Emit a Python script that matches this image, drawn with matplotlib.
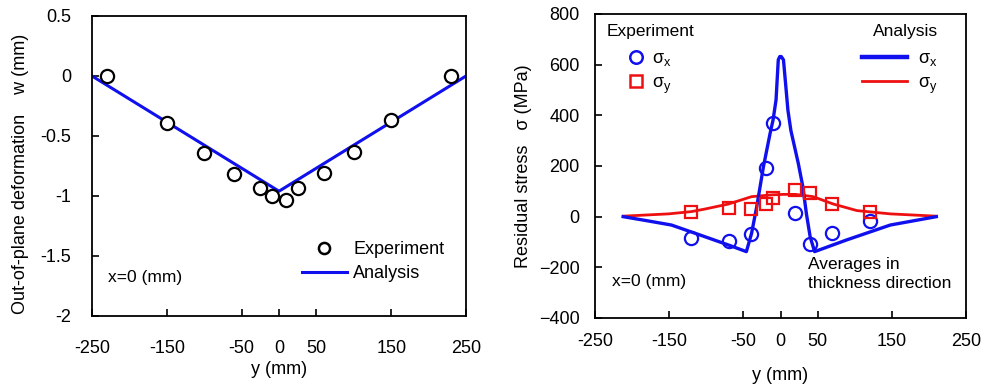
import matplotlib
matplotlib.use("Agg")
import matplotlib.pyplot as plt
from matplotlib.lines import Line2D

plt.rcParams['font.family'] = ['Liberation Sans', 'DejaVu Sans']
plt.rcParams['mathtext.fontset'] = 'custom'
plt.rcParams['mathtext.rm'] = 'Liberation Sans'
plt.rcParams['mathtext.it'] = 'Liberation Sans:italic'

# ---- left panel data ----
w_exp_y = [-230, -150, -100, -60, -25, -10, 10, 25, 60, 100, 150, 230]
w_exp = [0.0, -0.39, -0.64, -0.82, -0.93, -1.0, -1.03, -0.93, -0.81, -0.63, -0.37, 0.0]
w_ana_y = [-250, 0, 250]
w_ana = [0.0, -0.96, 0.0]

# ---- right panel data ----
s_exp_y = [-120, -70, -40, -20, -10, 20, 40, 70, 120]
sx_exp = [-83, -95, -70, 192, 371, 15, -106, -64, -17]
sy_exp = [20, 34, 29, 50, 74, 105, 92, 51, 17]

sx_ana_y = [-212, -180, -147, -102, -70, -46, -39, -32, -23, -14, -10, -6, -3, -1,
            1, 4, 7, 10, 14, 24, 30, 35, 40, 46, 89, 148, 210]
sx_ana = [0, -16, -33, -79, -112, -138, -66, 40, 197, 329, 382, 461, 619, 632,
          632, 619, 520, 420, 340, 210, 120, 10, -80, -138, -92, -33, 0]
sy_ana_y = [-212, -151, -120, -102, -70, -39, -12, 4, 20, 44, 71, 103, 148, 210]
sy_ana = [2, 11, 20, 30, 50, 79, 86, 88, 88, 79, 50, 24, 11, 2]

xticks = [-250, -150, -50, 0, 50, 150, 250]
w_ticks = [0.5, 0, -0.5, -1, -1.5, -2]
w_ticklabels = ['0.5', '0', '-0.5', '-1', '-1.5', '-2']
s_ticks = [800, 600, 400, 200, 0, -200, -400]

FS = 13
W, H = 986, 387
fig = plt.figure(figsize=(W / 100, H / 100), dpi=100)

def axrect(l, r, t, b):
    return [l / W, 1 - b / H, (r - l) / W, (b - t) / H]

# ---------------- left ----------------
ax1 = fig.add_axes(axrect(92, 466, 16, 316))
ax1.plot(w_ana_y, w_ana, color='#1010ee', lw=2.2, zorder=2)
ax1.plot(w_exp_y, w_exp, ls='none', marker='o', ms=9.5, mfc='white', mec='black',
         mew=1.6, zorder=3)
ax1.set_xlim(-250, 250)
ax1.set_ylim(-2, 0.5)
ax1.set_xticks(xticks)
ax1.set_xticklabels([str(v) for v in xticks])
ax1.set_yticks(w_ticks)
ax1.set_yticklabels(w_ticklabels)
ax1.tick_params(axis='both', direction='in', length=5, width=1.2, labelsize=FS)
ax1.tick_params(axis='x', pad=17)
ax1.tick_params(axis='y', pad=15)
for s in ax1.spines.values():
    s.set_linewidth(1.3)
ax1.set_xlabel('y (mm)', fontsize=FS, labelpad=3)
ax1.set_ylabel('Out-of-plane deformation    w (mm)', fontsize=FS, labelpad=8)
ax1.yaxis.label.set_y(0.473)
ax1.text(0.043, 0.127, 'x=0 (mm)', transform=ax1.transAxes, fontsize=FS - 0.5,
         va='center', ha='left')
h1 = [Line2D([], [], ls='none', marker='o', ms=8, mfc='white', mec='black', mew=1.8),
      Line2D([], [], color='#1010ee', lw=2.2)]
ax1.legend(h1, ['Experiment', 'Analysis'], loc='upper left',
           bbox_to_anchor=(0.561, 0.25), frameon=False, fontsize=FS,
           handlelength=2.5, handletextpad=0.35, labelspacing=0.4,
           borderpad=0, borderaxespad=0)

# ---------------- right ----------------
ax2 = fig.add_axes(axrect(595, 966, 14, 318))
ax2.plot(sy_ana_y, sy_ana, color='#ee1010', lw=2.0, zorder=2)
ax2.plot(sx_ana_y, sx_ana, color='#1010ee', lw=2.4, zorder=2)
ax2.plot(s_exp_y, sx_exp, ls='none', marker='o', ms=9.5, mfc='none', mec='#1010ee',
         mew=1.6, zorder=3)
ax2.plot(s_exp_y, sy_exp, ls='none', marker='s', ms=9, mfc='none', mec='#ee1010',
         mew=1.6, zorder=3)
ax2.set_xlim(-250, 250)
ax2.set_ylim(-400, 800)
ax2.set_xticks(xticks)
ax2.set_xticklabels([str(v) for v in xticks])
ax2.set_yticks(s_ticks)
ax2.tick_params(axis='both', direction='in', length=5, width=1.2, labelsize=FS)
ax2.tick_params(axis='x', pad=11)
ax2.tick_params(axis='y', pad=11)
for s in ax2.spines.values():
    s.set_linewidth(1.3)
ax2.set_xlabel('y (mm)', fontsize=FS, labelpad=12)
ax2.set_ylabel('Residual stress   σ (MPa)', fontsize=FS, labelpad=5)
ax2.text(0.046, 0.12, 'x=0 (mm)', transform=ax2.transAxes, fontsize=FS - 0.5,
         va='center', ha='left')
ax2.text(0.573, 0.145, 'Averages in\nthickness direction', transform=ax2.transAxes,
         fontsize=FS - 0.5, va='center', ha='left', linespacing=1.3)
ax2.text(0.03, 0.944, 'Experiment', transform=ax2.transAxes, fontsize=FS - 0.5,
         va='center', ha='left')
ax2.text(0.925, 0.944, 'Analysis', transform=ax2.transAxes, fontsize=FS - 0.5,
         va='center', ha='right')
lab_x = r'σ$_\mathregular{x}$'
lab_y = r'σ$_\mathregular{y}$'
h2 = [Line2D([], [], ls='none', marker='o', ms=9, mfc='none', mec='#1010ee', mew=1.8),
      Line2D([], [], ls='none', marker='s', ms=8.5, mfc='none', mec='#ee1010', mew=1.8)]
leg2 = ax2.legend(h2, [lab_x, lab_y], loc='upper left', bbox_to_anchor=(0.086, 0.882),
                  frameon=False, fontsize=FS, handlelength=1.0, handletextpad=0.4,
                  labelspacing=0.37, borderpad=0, borderaxespad=0)
ax2.add_artist(leg2)
h3 = [Line2D([], [], color='#1010ee', lw=3.2), Line2D([], [], color='#ee1010', lw=2.0)]
ax2.legend(h3, [lab_x, lab_y], loc='upper left', bbox_to_anchor=(0.72, 0.882),
           frameon=False, fontsize=FS, handlelength=2.5, handletextpad=0.6,
           labelspacing=0.37, borderpad=0, borderaxespad=0)

fig.savefig('out.png', dpi=100)
